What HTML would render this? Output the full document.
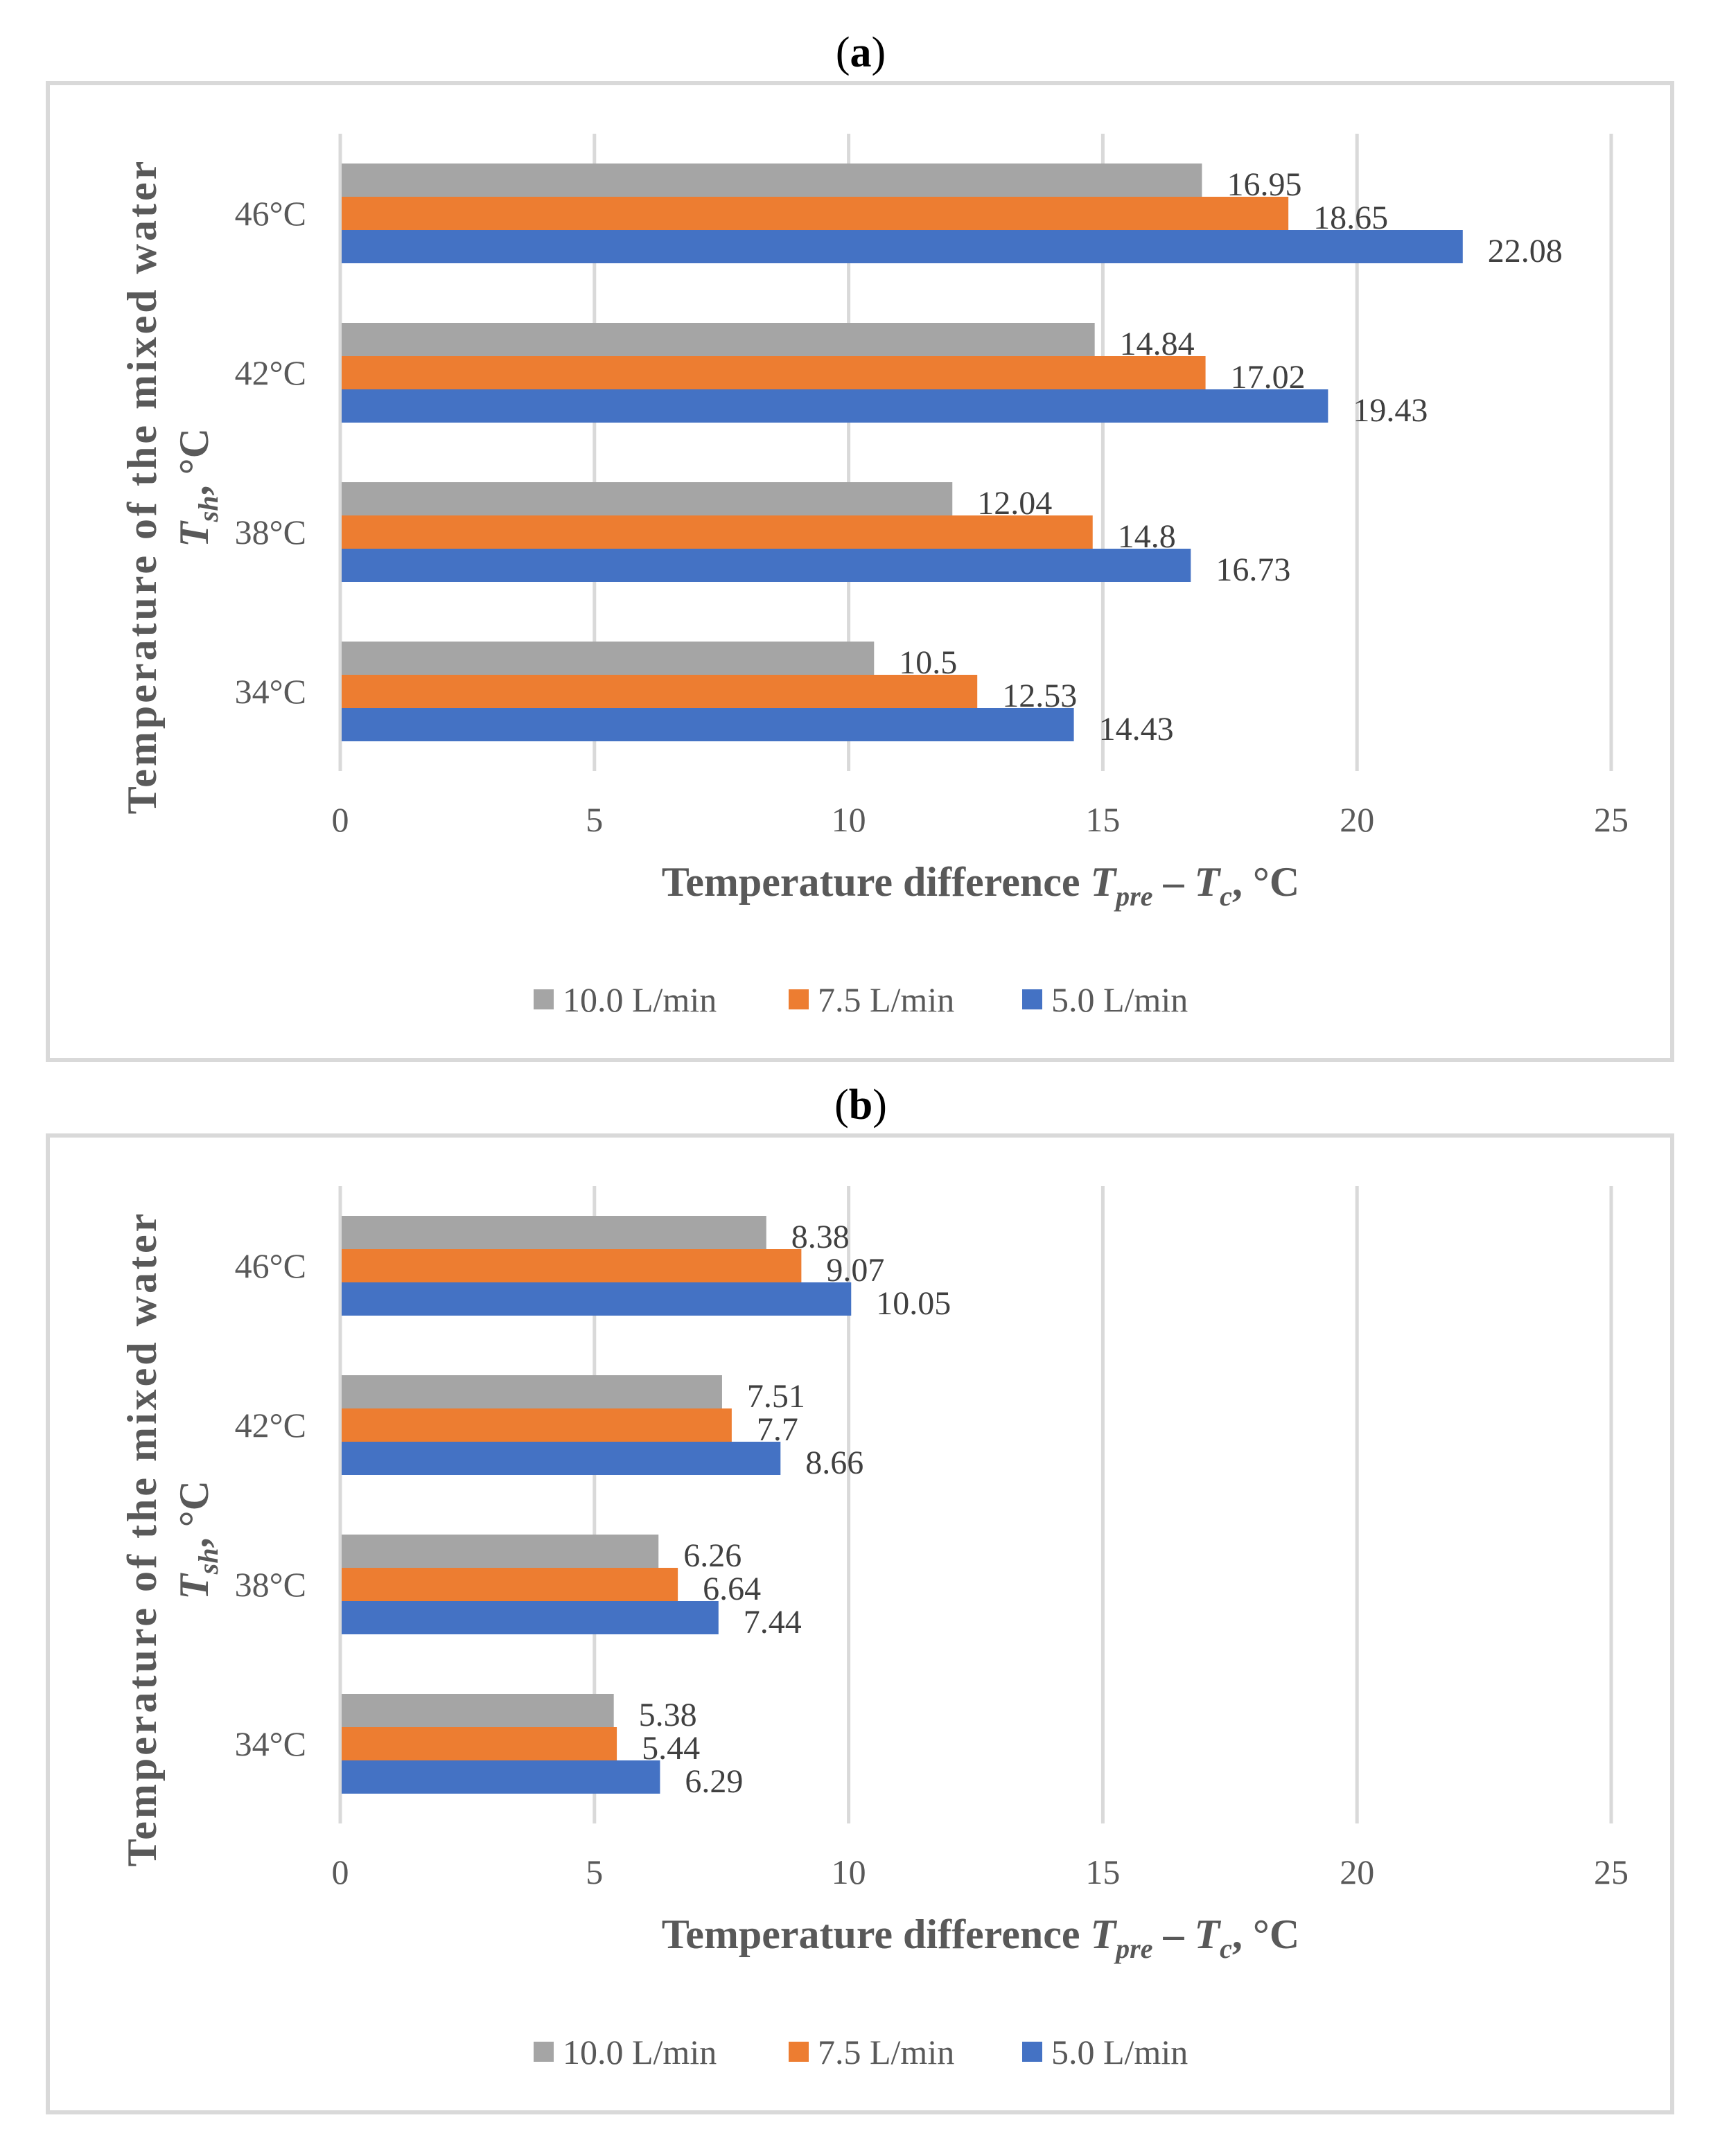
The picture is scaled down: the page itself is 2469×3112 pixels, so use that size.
<!DOCTYPE html>
<html><head><meta charset="utf-8"><style>
html,body{margin:0;padding:0;background:#fff;width:2469px;height:3112px;overflow:hidden}
svg{display:block}
text{font-family:"Liberation Serif",serif}
</style></head><body>
<svg id="chart" width="2469" height="3112" viewBox="0 0 2469 3112" xmlns="http://www.w3.org/2000/svg"></svg>
<script>
const categories = ["46°C","42°C","38°C","34°C"];
const seriesNames = ["10.0 L/min","7.5 L/min","5.0 L/min"];
const panelAValues10 = [16.95,14.84,12.04,10.5];
const panelAValues75 = [18.65,17.02,14.8,12.53];
const panelAValues50 = [22.08,19.43,16.73,14.43];
const panelBValues10 = [8.38,7.51,6.26,5.38];
const panelBValues75 = [9.07,7.7,6.64,5.44];
const panelBValues50 = [10.05,8.66,7.44,6.29];
const xTicks = [0,5,10,15,20,25];
const panelLetters = ["a","b"];

const NS="http://www.w3.org/2000/svg";
const svg=document.getElementById('chart');
const colors=["#a5a5a5","#ed7d31","#4472c4"];
function mk(tag,attrs,parent){const e=document.createElementNS(NS,tag);for(const k in attrs)e.setAttribute(k,attrs[k]);(parent||svg).appendChild(e);return e;}
const x0=491, xUnit=(2325-491)/25;
function xs(v){return x0+v*xUnit;}

function panel(off,letter,vals,key){
  const g=mk('g',{});
  
  
  const t=mk('text',{x:1242,y:off+96,'text-anchor':'middle','font-size':62,fill:'#000'},g);
  t.innerHTML='(<tspan font-weight="bold">'+letter+'</tspan>)';
  
  
  const fr=mk('rect',{x:69,y:off+120,width:2344,height:1410,fill:'none',stroke:'#d9d9d9','stroke-width':6},g);
  
  
  const top=off+193, bot=off+1113, band=(bot-top)/categories.length;
  xTicks.forEach(v=>{
    const l=mk('line',{x1:xs(v),x2:xs(v),y1:top,y2:bot,stroke:'#d9d9d9','stroke-width':5},g);
    
    
    const tx=mk('text',{x:xs(v),y:off+1200,'text-anchor':'middle','font-size':50,fill:'#595959'},g);
    tx.textContent=v;
    
    
  });
  const bh=48;
  categories.forEach((c,i)=>{
    const cy=top+band*(i+0.5);
    const ct=mk('text',{x:442,y:cy+17,'text-anchor':'end','font-size':50,fill:'#595959'},g);
    ct.textContent=c;
    
    
    vals.forEach((arr,s)=>{
      const y=cy-bh*1.5+s*bh;
      const r=mk('rect',{x:x0+2,y:y,width:xs(arr[i])-x0-2,height:bh,fill:colors[s]},g);
      
      
      const lt=mk('text',{x:xs(arr[i])+36,y:y+bh/2+22,'font-size':48,fill:'#404040'},g);
      lt.textContent=arr[i];
      
      
    });
  });
  const xt=mk('text',{x:1415,y:off+1293,'text-anchor':'middle','font-size':60,'font-weight':'bold',fill:'#595959'},g);
  xt.innerHTML='Temperature difference <tspan font-style="italic">T</tspan><tspan font-style="italic" font-size="40" dy="14">pre</tspan><tspan dy="-14"> – </tspan><tspan font-style="italic">T</tspan><tspan font-style="italic" font-size="40" dy="14">c</tspan><tspan dy="-14">, °C</tspan>';
  
  
  const yt=mk('text',{transform:'translate(225,'+(off+702)+') rotate(-90)','text-anchor':'middle','font-size':60,'font-weight':'bold','letter-spacing':4,fill:'#595959'},g);
  yt.textContent='Temperature of the mixed water';
  
  
  const yt2=mk('text',{transform:'translate(300,'+(off+704)+') rotate(-90)','text-anchor':'middle','font-size':60,'font-weight':'bold',fill:'#595959'},g);
  yt2.innerHTML='<tspan font-style="italic">T</tspan><tspan font-style="italic" font-size="40" dy="14">sh</tspan><tspan dy="-14">, °C</tspan>';
  
  
  const lx=[770,1138,1475];
  seriesNames.forEach((n,s)=>{
    const sq=mk('rect',{x:lx[s],y:off+1428,width:29,height:29,fill:colors[s]},g);
    
    
    const lt=mk('text',{x:lx[s]+42,y:off+1460,'font-size':50,fill:'#595959'},g);
    lt.textContent=n;
    
    
  });
}
panel(0,panelLetters[0],[panelAValues10,panelAValues75,panelAValues50],'a');
panel(1519,panelLetters[1],[panelBValues10,panelBValues75,panelBValues50],'b');
</script>
</body></html>
